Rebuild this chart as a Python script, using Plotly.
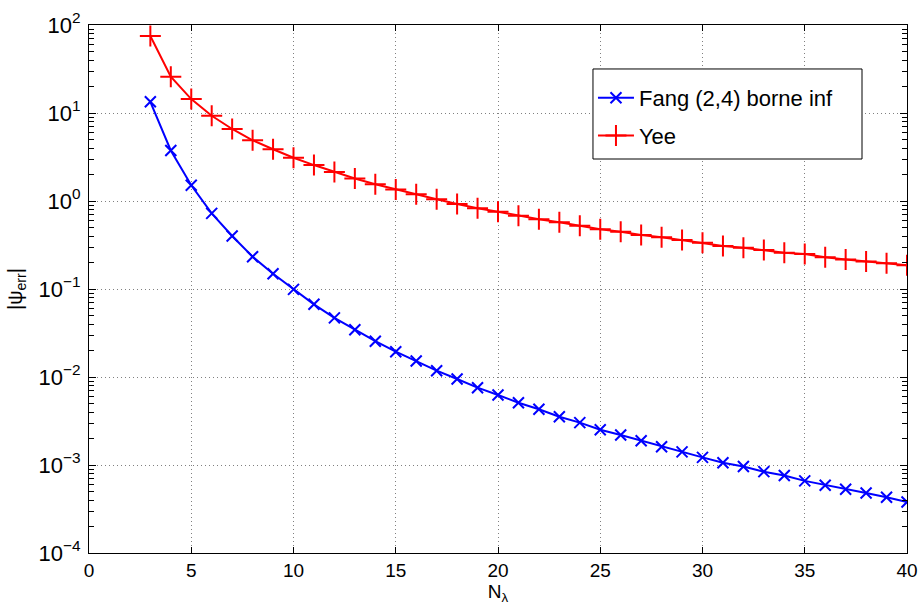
import plotly.graph_objects as go

n_lambda = list(range(3, 41))

fang_err = [13.4, 3.75, 1.51, 0.724, 0.40, 0.233, 0.149, 0.099, 0.067, 0.047,
            0.0345, 0.0255, 0.0194, 0.0152, 0.0118, 0.0095, 0.00756, 0.00624,
            0.0051, 0.0043, 0.00354, 0.00303, 0.00252, 0.00219, 0.00189,
            0.00161, 0.00141, 0.00122, 0.00106, 0.00096, 0.00084, 0.00076,
            0.00066, 0.00059, 0.00053, 0.00048, 0.00043, 0.00038]

yee_err = [75.0, 25.8, 14.4, 9.3, 6.58, 4.9, 3.87, 3.1, 2.56, 2.13, 1.80, 1.55,
           1.35, 1.19, 1.045, 0.925, 0.826, 0.755, 0.68, 0.62, 0.573, 0.524,
           0.477, 0.448, 0.411, 0.387, 0.36, 0.336, 0.308, 0.295, 0.278, 0.259,
           0.25, 0.229, 0.217, 0.205, 0.196, 0.186]

series_names = ["Fang (2,4) borne inf", "Yee"]

y_exponents = [-4, -3, -2, -1, 0, 1, 2]
y_tickvals = [10.0 ** e for e in y_exponents]
y_ticktext = ["10<sup>%s</sup>" % (str(e).replace("-", "−")) for e in y_exponents]
y_minor = [m * 10.0 ** e for e in y_exponents[:-1] for m in range(2, 10)]

FONT = "Liberation Sans, Arial, Helvetica, sans-serif"
GRID_DASH = "1px,3px"

fig = go.Figure()
fig.add_trace(go.Scatter(
    x=n_lambda, y=fang_err, name=series_names[0], mode="lines+markers",
    line=dict(color="#0000FF", width=2),
    marker=dict(symbol="x-thin", size=11, line=dict(color="#0000FF", width=2), color="#0000FF"),
    legendgroup="a",
))
fig.add_trace(go.Scatter(
    x=n_lambda, y=yee_err, name=series_names[1], mode="lines+markers",
    line=dict(color="#FF0000", width=2),
    marker=dict(symbol="cross-thin", size=15, line=dict(color="#FF0000", width=2), color="#FF0000"),
    legendgroup="b",
))

# legend frame (drawn as a shape so its width matches the original box)
fig.add_shape(
    type="rect", xref="paper", yref="paper",
    x0=0.6161, x1=0.9450, y0=0.7462, y1=0.9167,
    fillcolor="white", line=dict(color="black", width=1), layer="above",
)

fig.update_layout(
    width=920, height=606,
    margin=dict(l=89, r=13, t=25, b=53),
    paper_bgcolor="white", plot_bgcolor="white",
    font=dict(family=FONT, size=19, color="black"),
    showlegend=True,
    legend=dict(
        x=0.6161, y=0.9015, xanchor="left", yanchor="top",
        bgcolor="rgba(0,0,0,0)", borderwidth=0,
        font=dict(family=FONT, size=22, color="black"),
        tracegroupgap=6, traceorder="grouped",
        itemwidth=36,
    ),
    xaxis=dict(
        range=[0, 40], dtick=5, tick0=0, automargin=False,
        showline=True, linecolor="black", linewidth=1, mirror="allticks",
        ticks="inside", ticklen=6, tickcolor="black",
        showgrid=True, gridcolor="#808080", griddash=GRID_DASH, gridwidth=1,
        zeroline=False,
        tickfont=dict(family=FONT, size=19, color="black"),
        title=dict(text="N<sub>λ</sub>", font=dict(family=FONT, size=19), standoff=3),
    ),
    yaxis=dict(
        type="log", range=[-4, 2], automargin=False,
        tickmode="array", tickvals=y_tickvals, ticktext=y_ticktext,
        showline=True, linecolor="black", linewidth=1, mirror="allticks",
        ticks="inside", ticklen=7, tickcolor="black",
        minor=dict(tickmode="array", tickvals=y_minor, ticks="inside", ticklen=5,
                   tickcolor="black", tickwidth=1, showgrid=False),
        showgrid=True, gridcolor="#808080", griddash=GRID_DASH, gridwidth=1,
        zeroline=False,
        tickfont=dict(family=FONT, size=22, color="black"),
        ticklabelstandoff=3,
        title=dict(text="|ψ<sub>err</sub>|", font=dict(family=FONT, size=20), standoff=10),
    ),
)

fig.write_html(
    "out.html",
    config={"displayModeBar": False},
    post_script="document.body.style.margin='0';document.body.style.overflow='hidden';",
)
